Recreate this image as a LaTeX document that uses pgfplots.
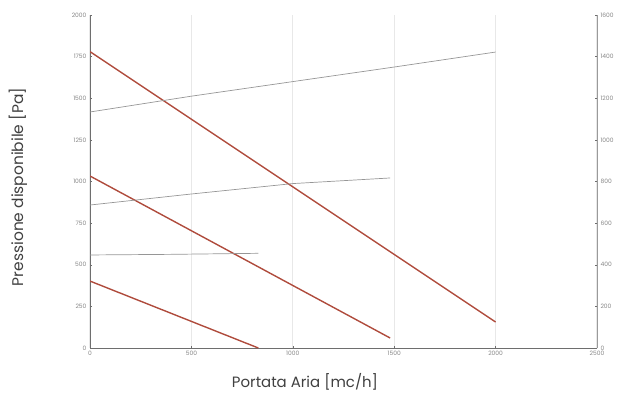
\documentclass[border=0pt]{standalone}
\usepackage{pgfplots}
\pgfplotsset{compat=1.18}
\usepackage{fontspec}
\setmainfont{Poppins}
\definecolor{curve}{RGB}{175,75,60}
\definecolor{pw}{RGB}{150,150,150}
\definecolor{axl}{RGB}{110,110,110}
\definecolor{tkl}{RGB}{135,135,135}
\begin{document}
\begin{tikzpicture}[x=1bp,y=1bp]
\useasboundingbox (0,0) rectangle (637,404);
\pgfplotsset{
  base/.style={
    at={(90bp,56bp)}, anchor=south west, scale only axis,
    width=507bp, height=333bp,
    xmin=0, xmax=2500,
    tick label style={font=\fontsize{6}{7}\selectfont, text=tkl},
    /pgf/number format/assume math mode=true,
    /pgf/number format/1000 sep={},
    major tick length=2bp,
    tick style={axl, thin},
  }
}
\begin{axis}[base,
  ymin=0, ymax=2000,
  axis x line*=bottom, axis y line*=left,
  axis line style={axl, line width=0.9pt},
  xtick={0,500,1000,1500,2000,2500},
  ytick={0,250,...,2000},
  xmajorgrids, grid style={gray!18, line width=1.2pt},
]
\addplot[curve, line width=1.4pt] coordinates {(0,1780) (2000,156)};
\addplot[curve, line width=1.4pt] coordinates {(0,1033) (1480,60)};
\addplot[curve, line width=1.4pt] coordinates {(0,402) (830,0)};
\end{axis}
\begin{axis}[base,
  ymin=0, ymax=1600,
  axis x line=none, axis y line*=right,
  axis line style={axl!70, line width=0.8pt},
  ytick={0,200,...,1600},
]
\addplot[pw, line width=0.7pt] coordinates {(0,1134) (500,1210) (1000,1280) (1500,1350) (2000,1422)};
\addplot[pw, line width=0.7pt] coordinates {(0,687) (500,740) (1000,790) (1480,817)};
\addplot[pw, line width=0.7pt] coordinates {(0,447) (400,450) (830,455)};
\end{axis}
\node[font=\fontsize{15}{16}\selectfont, text=black!75] at (305,22) {Portata Aria [mc/h]};
\node[font=\fontsize{15.5}{17}\selectfont, text=black!75, rotate=90] at (18,217) {Pressione disponibile [Pa]};
\end{tikzpicture}
\end{document}
